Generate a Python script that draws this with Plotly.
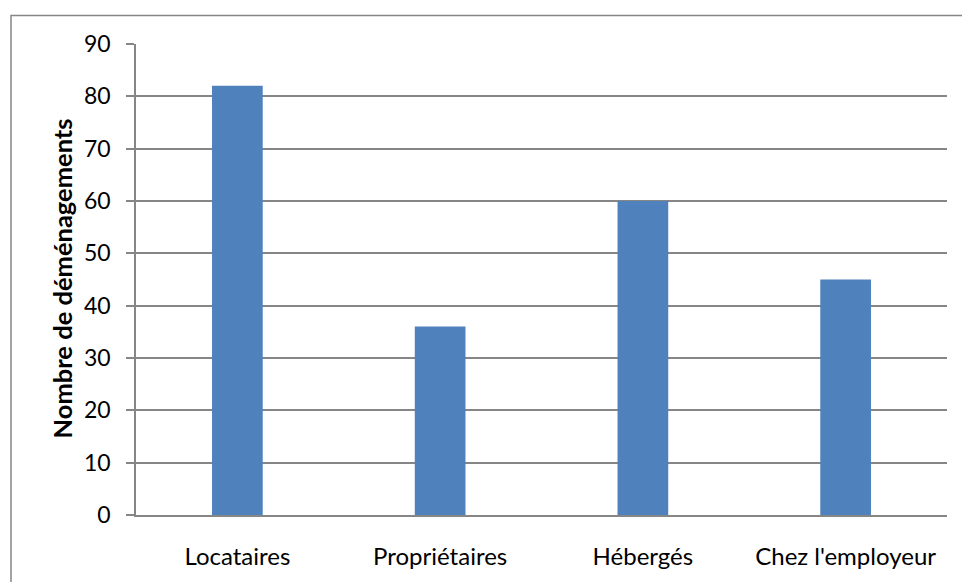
import plotly.graph_objects as go

categories = ["Locataires", "Propriétaires", "Hébergés", "Chez l'employeur"]
values = [82, 36, 60, 45]
y_ticks = [0, 10, 20, 30, 40, 50, 60, 70, 80, 90]
y_title = "Nombre de déménagements"

W, H = 962, 582
L, R, T, B = 136, 15, 44, 58
pw, ph = W - L - R, H - T - B


def px_x(p):
    return (p - L) / pw


def px_y(p):
    return (H - B - p) / ph


fig = go.Figure()
fig.add_trace(go.Bar(x=categories, y=values, marker=dict(color="#4F81BD", line=dict(width=0)), width=0.25))

fam = "Lato, Open Sans, sans-serif"
fig.update_layout(
    width=W, height=H,
    margin=dict(l=L, r=R, t=T, b=B, pad=0),
    paper_bgcolor="white", plot_bgcolor="white",
    showlegend=False,
    font=dict(family=fam, size=23, color="#000000"),
    xaxis=dict(showline=True, linecolor="#868686", linewidth=1.5, ticks="", showgrid=False,
               tickfont=dict(family=fam, size=24, color="#000000"), ticklabelstandoff=19),
    yaxis=dict(range=[0, 90], tickvals=y_ticks, showgrid=True, gridcolor="#868686", gridwidth=1.5,
               showline=True, linecolor="#868686", linewidth=1.5, ticks="outside", ticklen=8,
               tickcolor="#868686", tickwidth=1.5,
               tickfont=dict(family=fam, size=23, color="#000000"), ticklabelstandoff=11,
               zeroline=False),
    shapes=[dict(type="rect", xref="paper", yref="paper",
                 x0=px_x(11), x1=px_x(980), y0=px_y(600), y1=px_y(15),
                 line=dict(color="#868686", width=1.5), fillcolor="rgba(0,0,0,0)", layer="below")],
    annotations=[dict(text="<b>" + y_title + "</b>", textangle=-90, xref="paper", yref="paper",
                      x=px_x(62), y=px_y(283), showarrow=False, xanchor="center", yanchor="middle",
                      font=dict(family=fam, size=25.5, color="#000000"))],
)

fig.write_html("out.html", config={"displayModeBar": False},
               post_script="document.body.style.margin='0';document.body.style.padding='0';"
                           "document.body.style.overflow='hidden';")
